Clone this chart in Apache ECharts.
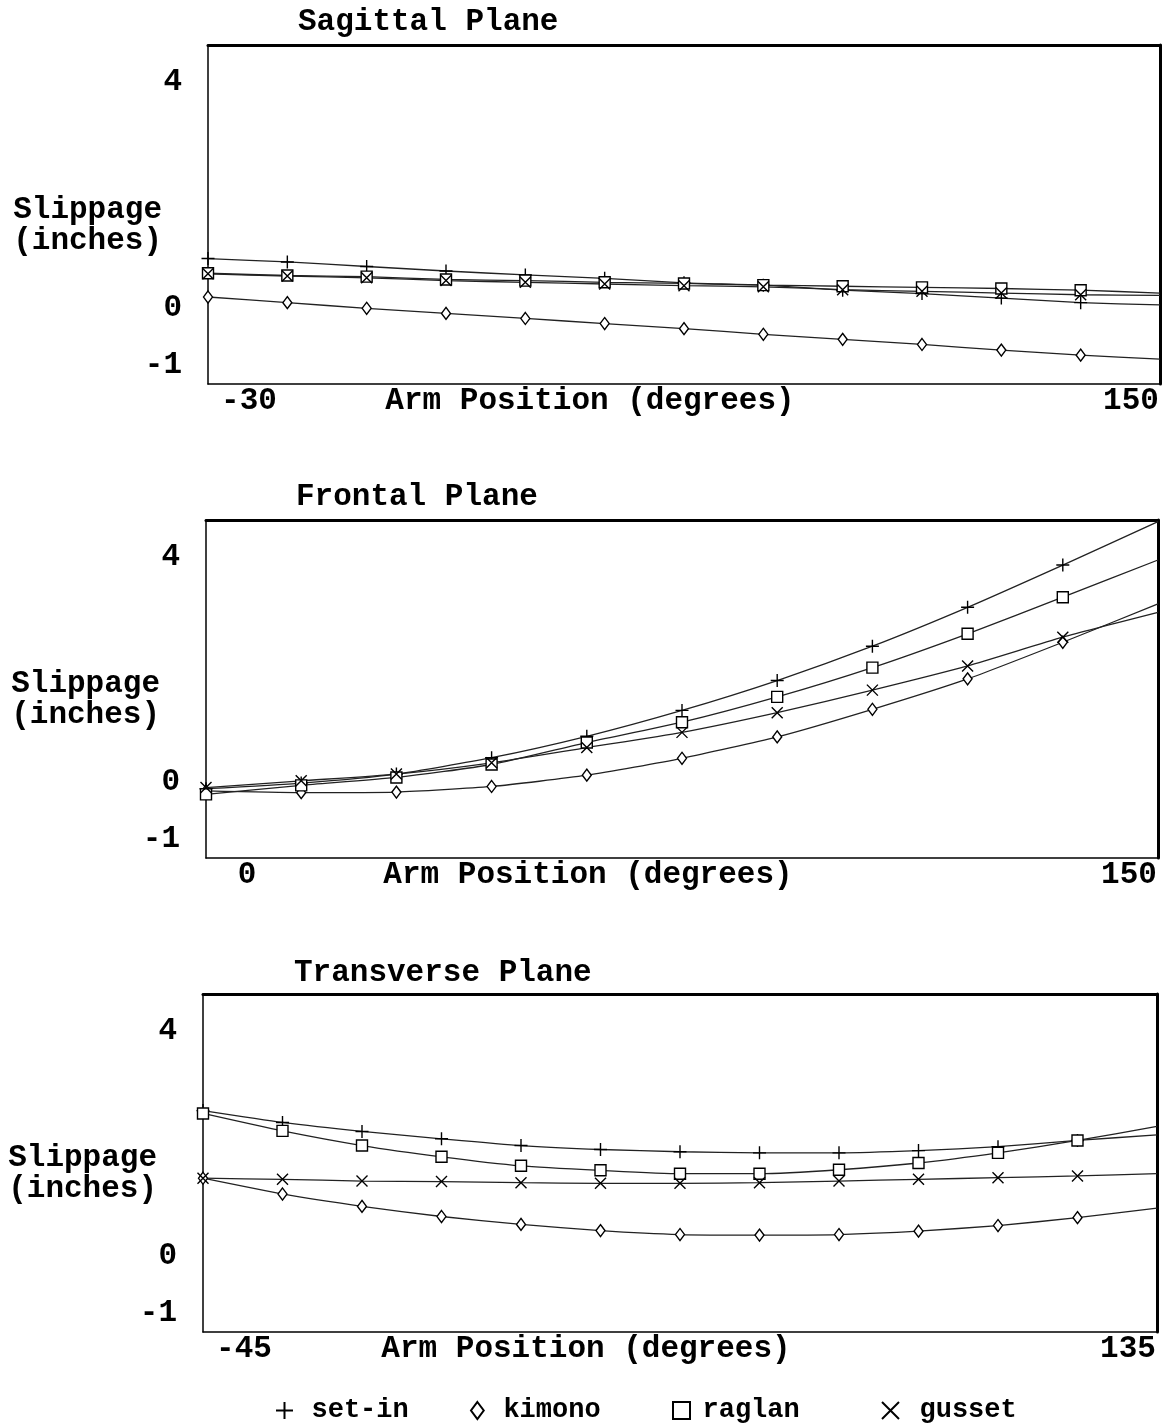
<!DOCTYPE html>
<html>
<head>
<meta charset="utf-8">
<script src="https://cdn.jsdelivr.net/npm/echarts@6/dist/echarts.min.js"></script>
<style>
html,body{margin:0;padding:0;background:#fff;}
#chart{width:1172px;height:1427px;}
</style>
</head>
<body>
<div id="chart"></div>
<script>
// ---- data ----
const planeTitles = ['Sagittal Plane', 'Frontal Plane', 'Transverse Plane'];
const seriesNames = ['set-in', 'kimono', 'raglan', 'gusset'];
const yTickLabels = [-1, 0, 4];
const xAxisTitle = 'Arm Position (degrees)';
const yAxisTitleLines = ['Slippage', '(inches)'];

const sagittalAngles = [-30, -15, 0, 15, 30, 45, 60, 75, 90, 105, 120, 135, 150];
const sagittalSetIn  = [0.88, 0.82, 0.74, 0.66, 0.59, 0.53, 0.45, 0.41, 0.32, 0.26, 0.18, 0.10, 0.06];
const sagittalKimono = [0.20, 0.10, 0.00, -0.09, -0.18, -0.27, -0.36, -0.46, -0.55, -0.64, -0.74, -0.83, -0.90];
const sagittalRaglan = [0.62, 0.58, 0.56, 0.51, 0.49, 0.46, 0.44, 0.41, 0.39, 0.37, 0.35, 0.32, 0.27];
const sagittalGusset = [0.61, 0.57, 0.54, 0.49, 0.46, 0.43, 0.40, 0.38, 0.33, 0.30, 0.27, 0.24, 0.23];

const frontalAngles = [0, 15, 30, 45, 60, 75, 90, 105, 120, 135, 150];
const frontalSetIn  = [-0.11, -0.01, 0.15, 0.44, 0.82, 1.28, 1.81, 2.42, 3.11, 3.86, 4.63];
const frontalKimono = [-0.15, -0.18, -0.17, -0.07, 0.13, 0.43, 0.81, 1.30, 1.84, 2.49, 3.17];
const frontalRaglan = [-0.21, -0.05, 0.09, 0.32, 0.71, 1.07, 1.52, 2.04, 2.64, 3.29, 3.95];
const frontalGusset = [-0.09, 0.03, 0.15, 0.35, 0.62, 0.89, 1.24, 1.64, 2.07, 2.58, 3.02];

const transverseAngles = [-45, -30, -15, 0, 15, 30, 45, 60, 75, 90, 105, 120, 135];
const transverseSetIn  = [2.59, 2.38, 2.22, 2.09, 1.97, 1.90, 1.86, 1.84, 1.84, 1.88, 1.95, 2.06, 2.16];
const transverseKimono = [1.39, 1.11, 0.89, 0.71, 0.57, 0.46, 0.39, 0.38, 0.39, 0.45, 0.55, 0.69, 0.86];
const transverseRaglan = [2.54, 2.23, 1.97, 1.77, 1.61, 1.53, 1.47, 1.47, 1.54, 1.66, 1.84, 2.06, 2.31];
const transverseGusset = [1.39, 1.37, 1.34, 1.33, 1.31, 1.30, 1.30, 1.31, 1.34, 1.37, 1.40, 1.43, 1.47];

// ---- styling / layout ----
const FONT = '"Liberation Mono", "DejaVu Sans Mono", monospace';
const PLUS = 'path://M6,0L6,12M0,6L12,6';
const CROSS = 'path://M0,0L12,12M12,0L0,12';
const symbols = {
  'set-in': {symbol: PLUS, size: 13},
  'kimono': {symbol: 'diamond', size: [9, 12]},
  'raglan': {symbol: 'rect', size: 11},
  'gusset': {symbol: CROSS, size: 11}
};

const panels = [
  {title: planeTitles[0], angles: sagittalAngles, data: [sagittalSetIn, sagittalKimono, sagittalRaglan, sagittalGusset],
   grid: {left: 208, top: 45, width: 952, height: 339}, titleTop: 7, titleLeft: 298},
  {title: planeTitles[1], angles: frontalAngles, data: [frontalSetIn, frontalKimono, frontalRaglan, frontalGusset],
   grid: {left: 206, top: 520, width: 952, height: 338}, titleTop: 482, titleLeft: 296},
  {title: planeTitles[2], angles: transverseAngles, data: [transverseSetIn, transverseKimono, transverseRaglan, transverseGusset],
   grid: {left: 203, top: 994, width: 954, height: 338}, titleTop: 958, titleLeft: 294}
];

const txt = {fontFamily: FONT, fontWeight: 'bold', fontSize: 31, color: '#000'};
const yNameText = '{g| }\n' + yAxisTitleLines.map(s => '{a|' + s + '}').join('\n');

const option = {
  animation: false,
  backgroundColor: '#fff',
  title: [], grid: [], xAxis: [], yAxis: [], series: [], legend: []
};

panels.forEach((p, i) => {
  const xmin = p.angles[0], xmax = p.angles[p.angles.length - 1];
  option.title.push({text: p.title, left: p.titleLeft, top: p.titleTop, padding: 0, textStyle: txt});
  option.grid.push(Object.assign({show: false, containLabel: false, outerBoundsMode: 'none'}, p.grid));
  // bottom x axis (labels + title)
  option.xAxis.push({
    type: 'value', gridIndex: i, min: xmin, max: xmax, position: 'bottom',
    axisLine: {show: true, onZero: false, lineStyle: {color: '#000', width: 1.5}},
    axisTick: {show: false}, splitLine: {show: false},
    axisLabel: {
      customValues: [xmin, xmax], margin: 2, hideOverlap: false,
      fontFamily: FONT, fontWeight: 'bold', fontSize: 31, color: '#000',
      formatter: v => (v === xmin ? '{l|' + v + '}' : '{r|' + v + '}'),
      rich: {
        l: {padding: [0, 0, 0, 82], fontFamily: FONT, fontWeight: 'bold', fontSize: 31, color: '#000'},
        r: {padding: [0, 58, 0, 0], fontFamily: FONT, fontWeight: 'bold', fontSize: 31, color: '#000'}
      }
    },
    name: xAxisTitle, nameLocation: 'middle', nameGap: 2, nameMoveOverlap: false,
    nameTextStyle: Object.assign({padding: [0, 188, 0, 0]}, txt)
  });
  // top x axis (frame)
  option.xAxis.push({
    type: 'value', gridIndex: i, min: xmin, max: xmax, position: 'top',
    axisLine: {show: true, onZero: false, lineStyle: {color: '#000', width: 3}},
    axisTick: {show: false}, axisLabel: {show: false}, splitLine: {show: false}
  });
  // left y axis
  option.yAxis.push({
    type: 'value', gridIndex: i, min: -1.34, max: 4.66, position: 'left',
    axisLine: {show: true, onZero: false, lineStyle: {color: '#000', width: 1.5}},
    axisTick: {show: false}, splitLine: {show: false},
    axisLabel: {customValues: yTickLabels, margin: 26, fontFamily: FONT, fontWeight: 'bold', fontSize: 31, color: '#000'},
    name: yNameText, nameLocation: 'middle', nameRotate: 0, nameGap: 46, nameMoveOverlap: false,
    nameTextStyle: Object.assign({align: 'right', rich: {
      g: {fontSize: 10, lineHeight: 22, fontFamily: FONT},
      a: {fontSize: 31, lineHeight: 31, fontFamily: FONT, fontWeight: 'bold', color: '#000', align: 'right'}
    }}, txt)
  });
  // right y axis (frame)
  option.yAxis.push({
    type: 'value', gridIndex: i, min: -1.34, max: 4.66, position: 'right',
    axisLine: {show: true, onZero: false, lineStyle: {color: '#000', width: 3}},
    axisTick: {show: false}, axisLabel: {show: false}, splitLine: {show: false}
  });

  seriesNames.forEach((name, k) => {
    const vals = p.data[k];
    const pts = p.angles.map((a, j) => {
      const item = {value: [a, vals[j]]};
      if (j === p.angles.length - 1) item.symbol = 'none';
      return item;
    });
    option.series.push({
      name: name, type: 'line', xAxisIndex: i * 2, yAxisIndex: i * 2,
      data: pts, smooth: 0.2,
      symbol: symbols[name].symbol, symbolSize: symbols[name].size, showSymbol: true, showAllSymbol: true,
      itemStyle: {color: '#fff', borderColor: '#000', borderWidth: 1.4},
      lineStyle: {color: '#222', width: 1.3},
      emphasis: {disabled: true}, z: 3
    });
  });
});

// legends (one component per entry to match their spacing)
const legendIcons = {
  'set-in': 'path://M6,0L6,12M0,6L12,6',
  'kimono': 'path://M6,0L12,8L6,16L0,8Z',
  'raglan': 'path://M0,0L12,0L12,12L0,12Z',
  'gusset': 'path://M0,0L12,12M12,0L0,12'
};
const legendPos = {'set-in': [275, 44], 'kimono': [470, 42], 'raglan': [672, 32], 'gusset': [881, 48]};
seriesNames.forEach(name => {
  option.legend.push({
    data: [{name: name, icon: legendIcons[name],
            itemStyle: {color: 'rgba(0,0,0,0)', borderColor: '#000', borderWidth: 2}}],
    left: legendPos[name][0], top: 1397, padding: 0,
    itemWidth: legendPos[name][1], itemHeight: 17, selectedMode: false,
    textStyle: {fontFamily: FONT, fontWeight: 'bold', fontSize: 27, color: '#000'}
  });
});

const chart = echarts.init(document.getElementById('chart'), null, {renderer: 'canvas'});
chart.setOption(option);
</script>
</body>
</html>
